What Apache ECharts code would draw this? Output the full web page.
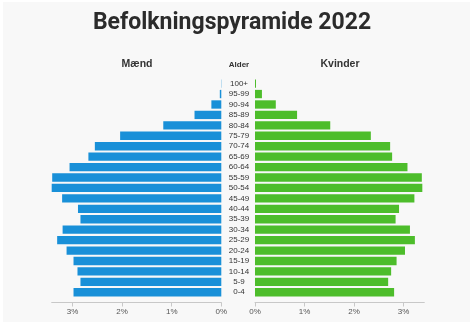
<!DOCTYPE html>
<html>
<head>
<meta charset="utf-8">
<script src="https://cdn.jsdelivr.net/npm/echarts@6/dist/echarts.min.js"></script>
<style>
  html, body { margin: 0; padding: 0; background: #ffffff; }
  #chart { width: 474px; height: 326px; }
</style>
</head>
<body>
<div id="chart"></div>
<script>
// Age groups, bottom to top
const ageGroups = ['0-4', '5-9', '10-14', '15-19', '20-24', '25-29', '30-34', '35-39', '40-44',
  '45-49', '50-54', '55-59', '60-64', '65-69', '70-74', '75-79', '80-84', '85-89', '90-94', '95-99', '100+'];
// Share of total population (%)
const menShare = [2.98, 2.84, 2.90, 2.98, 3.12, 3.31, 3.20, 2.84, 2.89, 3.21, 3.42, 3.41, 3.06,
  2.68, 2.55, 2.04, 1.17, 0.54, 0.20, 0.03, 0.005];
const womenShare = [2.81, 2.69, 2.75, 2.86, 3.03, 3.23, 3.13, 2.84, 2.91, 3.22, 3.38, 3.37, 3.08,
  2.77, 2.73, 2.34, 1.52, 0.85, 0.42, 0.14, 0.02];
const axisMax = 3.42;

const chart = echarts.init(document.getElementById('chart'), null, { renderer: 'canvas' });

const valueAxisCommon = {
  type: 'value',
  min: 0,
  max: axisMax,
  interval: 1,
  offset: 5,
  splitLine: { show: false },
  axisLine: { show: true, lineStyle: { color: '#c8c8c8', width: 1 } },
  axisTick: { show: true, length: 4, lineStyle: { color: '#c8c8c8' } },
  axisLabel: {
    formatter: '{value}%',
    showMaxLabel: false,
    color: '#555',
    fontSize: 8,
    fontFamily: 'Liberation Sans, Arial, sans-serif',
    margin: 5
  }
};

chart.setOption({
  backgroundColor: '#ffffff',
  animation: false,
  graphic: [
    { type: 'rect', left: 3, top: 2, shape: { width: 467, height: 320 }, style: { fill: '#f8f8f8' }, z: -10 },
    { type: 'text', x: 232, y: 23, style: { text: 'Befolkningspyramide 2022', fill: '#2b2b2b',
      font: 'bold 23px Roboto, sans-serif', textAlign: 'center', textVerticalAlign: 'middle' } },
    { type: 'text', x: 137, y: 64, style: { text: 'Mænd', fill: '#333',
      font: 'bold 10.5px "Liberation Sans", Arial, sans-serif', textAlign: 'center', textVerticalAlign: 'middle' } },
    { type: 'text', x: 239, y: 65, style: { text: 'Alder', fill: '#333',
      font: 'bold 8px "Liberation Sans", Arial, sans-serif', textAlign: 'center', textVerticalAlign: 'middle' } },
    { type: 'text', x: 340, y: 64, style: { text: 'Kvinder', fill: '#333',
      font: 'bold 10.5px "Liberation Sans", Arial, sans-serif', textAlign: 'center', textVerticalAlign: 'middle' } }
  ],
  grid: [
    { left: 51.7, top: 78.4, width: 169.6, height: 219.1 },
    { left: 255, top: 78.4, width: 169.3, height: 219.1 }
  ],
  xAxis: [
    Object.assign({ gridIndex: 0, inverse: true }, valueAxisCommon),
    Object.assign({ gridIndex: 1 }, valueAxisCommon)
  ],
  yAxis: [
    { gridIndex: 0, type: 'category', data: ageGroups, position: 'right',
      axisLine: { show: false }, axisTick: { show: false }, axisLabel: { show: false } },
    { gridIndex: 1, type: 'category', data: ageGroups, position: 'left',
      axisLine: { show: false }, axisTick: { show: false },
      axisLabel: { show: true, align: 'center', margin: 16, color: '#333', fontSize: 8,
        fontFamily: 'Liberation Sans, Arial, sans-serif' } }
  ],
  series: [
    { name: 'Mænd', type: 'bar', xAxisIndex: 0, yAxisIndex: 0, data: menShare,
      barCategoryGap: '20%', itemStyle: { color: '#1990d8' } },
    { name: 'Kvinder', type: 'bar', xAxisIndex: 1, yAxisIndex: 1, data: womenShare,
      barCategoryGap: '20%', itemStyle: { color: '#4dbd2b' } }
  ]
});
</script>
</body>
</html>
